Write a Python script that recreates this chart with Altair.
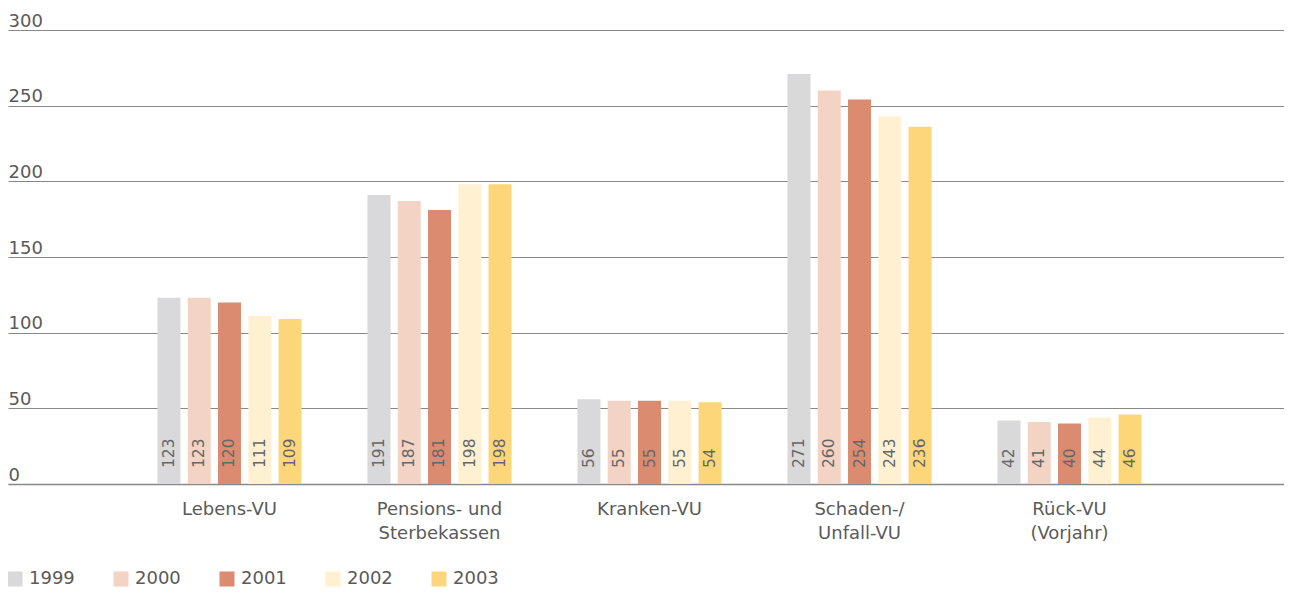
import altair as alt
import pandas as pd

categories = ["Lebens-VU", "Pensions- und\nSterbekassen", "Kranken-VU", "Schaden-/\nUnfall-VU", "Rück-VU\n(Vorjahr)"]
years = ["1999", "2000", "2001", "2002", "2003"]
v1999 = [123, 191, 56, 271, 42]
v2000 = [123, 187, 55, 260, 41]
v2001 = [120, 181, 55, 254, 40]
v2002 = [111, 198, 55, 243, 44]
v2003 = [109, 198, 54, 236, 46]
colors = ["#d9d9db", "#f2d3c4", "#db8b6f", "#fff0d2", "#fdd67a"]

series = [v1999, v2000, v2001, v2002, v2003]
rows = []
for y, vals in zip(years, series):
    for c, v in zip(categories, vals):
        rows.append({"cat": c, "year": y, "value": v})
df = pd.DataFrame(rows)

FONT = "DejaVu Sans"
TXT = "#5a5a5a"

xenc = alt.X("cat:N", sort=categories, title=None,
             scale=alt.Scale(paddingInner=0.314, paddingOuter=0.695, align=0.512),
             axis=alt.Axis(labelAngle=0, ticks=False, domain=True, domainColor="#888888",
                           domainWidth=1.5, labelFont=FONT, labelFontSize=18, labelColor=TXT,
                           labelPadding=16, labelLineHeight=24,
                           labelExpr="split(datum.label, '\\n')"))
xoff = alt.XOffset("year:N", sort=years, scale=alt.Scale(paddingInner=0.24, paddingOuter=0))

bars = alt.Chart(df).mark_bar().encode(
    x=xenc,
    xOffset=xoff,
    y=alt.Y("value:Q", title=None,
            scale=alt.Scale(domain=[0, 300], nice=False),
            axis=alt.Axis(values=[0, 50, 100, 150, 200, 250, 300], grid=True, gridColor="#888888",
                          gridWidth=1, domain=False, ticks=False, tickSize=0,
                          labelAlign="left", labelBaseline="alphabetic", labelPadding=0,
                          labelOffset=-4, labelFont=FONT, labelFontSize=18, labelColor=TXT)),
    color=alt.Color("year:N", sort=years, scale=alt.Scale(domain=years, range=colors),
                    legend=alt.Legend(title=None, orient="none", direction="horizontal",
                                      legendX=-2, legendY=540, padding=0, symbolType="square",
                                      symbolSize=225, symbolStrokeWidth=0, symbolOpacity=1,
                                      labelFont=FONT, labelFontSize=18, labelColor=TXT,
                                      labelOffset=5, columnPadding=37)),
)

labels = alt.Chart(df).mark_text(angle=270, align="left", baseline="middle", dx=16,
                                 font=FONT, fontSize=15.5, color="#666666").encode(
    x=alt.X("cat:N", sort=categories),
    xOffset=xoff,
    y=alt.datum(0),
    text=alt.Text("value:Q"),
)

chart = alt.layer(bars, labels).properties(
    width=1276, height=454,
    autosize=alt.AutoSizeParams(type="none"),
    padding={"left": 0, "top": 22, "right": 0, "bottom": 103},
).configure_view(stroke=None).configure_axis(gridOpacity=1)

chart.save("out.html", embed_options={"renderer": "svg", "actions": False})
